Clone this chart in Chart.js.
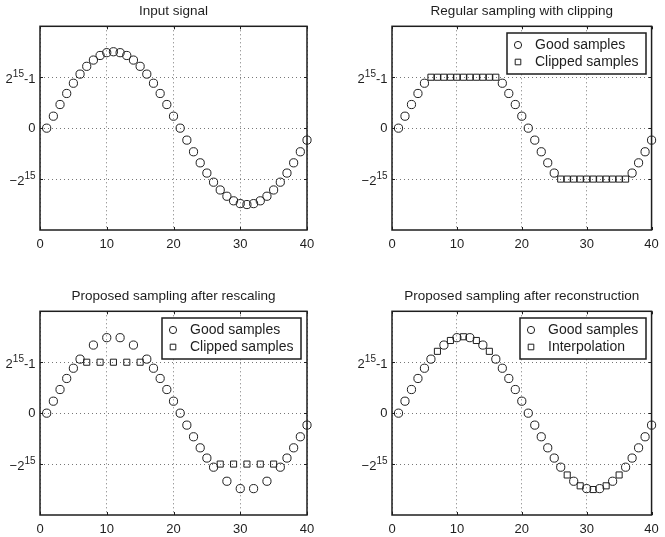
<!DOCTYPE html>
<html>
<head>
<meta charset="utf-8">
<title>Sampling with clipping</title>
<script src="https://cdn.jsdelivr.net/npm/chart.js@4/dist/chart.umd.min.js"></script>
<style>
  html, body { margin: 0; padding: 0; background: #fff; }
  #figure { position: relative; width: 665px; height: 537px; }
  #figure canvas { position: absolute; }
</style>
</head>
<body>
<div id="figure">
  <canvas id="inputChart" width="332" height="268" style="left:0;top:0"></canvas>
  <canvas id="clipChart" width="333" height="268" style="left:332px;top:0"></canvas>
  <canvas id="rescaleChart" width="332" height="269" style="left:0;top:268px"></canvas>
  <canvas id="reconChart" width="333" height="269" style="left:332px;top:268px"></canvas>
</div>
<script>
// sample values in units of 2^15
const sampleIndex = [1, 2, 3, 4, 5, 6, 7, 8, 9, 10, 11, 12, 13, 14, 15, 16, 17, 18, 19, 20,
  21, 22, 23, 24, 25, 26, 27, 28, 29, 30, 31, 32, 33, 34, 35, 36, 37, 38, 39, 40];

const inputSignal = [0, 0.235, 0.464, 0.681, 0.882, 1.061, 1.214, 1.337, 1.427, 1.482,
  1.5, 1.482, 1.427, 1.337, 1.214, 1.061, 0.882, 0.681, 0.464, 0.235,
  0, -0.235, -0.464, -0.681, -0.882, -1.061, -1.214, -1.337, -1.427, -1.482,
  -1.5, -1.482, -1.427, -1.337, -1.214, -1.061, -0.882, -0.681, -0.464, -0.235];

const clipGood = [0, 0.235, 0.464, 0.681, 0.882, null, null, null, null, null,
  null, null, null, null, null, null, 0.882, 0.681, 0.464, 0.235,
  0, -0.235, -0.464, -0.681, -0.882, null, null, null, null, null,
  null, null, null, null, null, null, -0.882, -0.681, -0.464, -0.235];
const clipClipped = [null, null, null, null, null, 1, 1, 1, 1, 1,
  1, 1, 1, 1, 1, 1, null, null, null, null,
  null, null, null, null, null, -1, -1, -1, -1, -1,
  -1, -1, -1, -1, -1, -1, null, null, null, null];

const rescaleGood = [0, 0.235, 0.464, 0.681, 0.882, 1.061, null, 1.337, null, 1.482,
  null, 1.482, null, 1.337, null, 1.061, 0.882, 0.681, 0.464, 0.235,
  0, -0.235, -0.464, -0.681, -0.882, -1.061, null, -1.337, null, -1.482,
  null, -1.482, null, -1.337, null, -1.061, -0.882, -0.681, -0.464, -0.235];
const rescaleClipped = [null, null, null, null, null, null, 1, null, 1, null,
  1, null, 1, null, 1, null, null, null, null, null,
  null, null, null, null, null, null, -1, null, -1, null,
  -1, null, -1, null, -1, null, null, null, null, null];

const reconGood = [0, 0.235, 0.464, 0.681, 0.882, 1.061, null, 1.337, null, 1.482,
  null, 1.482, null, 1.337, null, 1.061, 0.882, 0.681, 0.464, 0.235,
  0, -0.235, -0.464, -0.681, -0.882, -1.061, null, -1.337, null, -1.482,
  null, -1.482, null, -1.337, null, -1.061, -0.882, -0.681, -0.464, -0.235];
const reconInterp = [null, null, null, null, null, null, 1.214, null, 1.427, null,
  1.5, null, 1.427, null, 1.214, null, null, null, null, null,
  null, null, null, null, null, null, -1.214, null, -1.427, null,
  -1.5, null, -1.427, null, -1.214, null, null, null, null, null];

const xTickValues = [0, 10, 20, 30, 40];
const yTickValues = [-1, 0, 1];
// [base, superscript, tail]
const yTickLabels = [['\u22122', '15', ''], ['0', '', ''], ['2', '15', '-1']];

const FONT = "'Liberation Sans', Arial, Helvetica, sans-serif";
const INK = '#1e1e1e';

function toPoints(values) {
  return sampleIndex
    .map((x, i) => ({ x: x, y: values[i] }))
    .filter(p => p.y !== null);
}

// frame around the axes, inward tick marks and the 2^15 style y labels
const matlabAxes = {
  id: 'matlabAxes',
  afterDraw(chart) {
    const ctx = chart.ctx;
    const a = chart.chartArea;
    const xs = chart.scales.x, ys = chart.scales.y;
    ctx.save();
    ctx.strokeStyle = INK;
    ctx.lineWidth = 1;
    ctx.beginPath();
    xTickValues.forEach(v => {
      const px = Math.round(xs.getPixelForValue(v)) + 0.5;
      ctx.moveTo(px, a.bottom); ctx.lineTo(px, a.bottom - 3);
      ctx.moveTo(px, a.top); ctx.lineTo(px, a.top + 3);
    });
    yTickValues.forEach(v => {
      const py = Math.round(ys.getPixelForValue(v)) + 0.5;
      ctx.moveTo(a.left, py); ctx.lineTo(a.left + 3, py);
      ctx.moveTo(a.right, py); ctx.lineTo(a.right - 3, py);
    });
    ctx.stroke();

    ctx.lineWidth = 1.5;
    ctx.strokeRect(a.left, a.top, a.right - a.left, a.bottom - a.top);

    ctx.fillStyle = INK;
    ctx.textBaseline = 'middle';
    ctx.textAlign = 'left';
    yTickValues.forEach((v, i) => {
      const [base, sup, tail] = yTickLabels[i];
      const py = ys.getPixelForValue(v);
      ctx.font = '13px ' + FONT;
      const wBase = ctx.measureText(base).width;
      const wTail = ctx.measureText(tail).width;
      ctx.font = '10px ' + FONT;
      const wSup = ctx.measureText(sup).width;
      const yBase = sup ? py + 2.5 : py;
      let x = a.left - 4.5 - wBase - wSup - wTail;
      ctx.font = '13px ' + FONT;
      ctx.fillText(base, x, yBase);
      x += wBase;
      ctx.font = '10px ' + FONT;
      ctx.fillText(sup, x, yBase - 5.5);
      x += wSup;
      ctx.font = '13px ' + FONT;
      ctx.fillText(tail, x, yBase);
    });
    ctx.restore();
  }
};

// boxed legend in the upper right corner of the axes
const boxLegend = {
  id: 'boxLegend',
  afterDraw(chart, args, opts) {
    if (!opts.show) return;
    const ctx = chart.ctx;
    const a = chart.chartArea;
    const sets = chart.data.datasets;
    ctx.save();
    ctx.font = '14px ' + FONT;
    const textW = Math.max(...sets.map(d => ctx.measureText(d.label).width));
    const w = Math.round(28 + textW + 8), h = 41;
    const x = Math.round(a.right - 6 - w), y = Math.round(a.top + 7);
    ctx.fillStyle = '#fff';
    ctx.fillRect(x, y, w, h);
    ctx.strokeStyle = INK;
    ctx.lineWidth = 1.5;
    ctx.strokeRect(x, y, w, h);
    ctx.lineWidth = 1;
    sets.forEach((d, i) => {
      const cy = y + 12 + i * 17;
      ctx.beginPath();
      if (d.pointStyle === 'rect') {
        ctx.rect(x + 11 - 2.8, cy - 2.8, 5.6, 5.6);
      } else {
        ctx.arc(x + 11, cy, 3.6, 0, Math.PI * 2);
      }
      ctx.stroke();
      ctx.fillStyle = INK;
      ctx.textBaseline = 'middle';
      ctx.fillText(d.label, x + 28, cy + 0.5);
    });
    ctx.restore();
  }
};

function makeDataset(label, values, style) {
  return {
    label: label,
    data: toPoints(values),
    pointStyle: style,
    pointRadius: style === 'rect' ? 4.3 : 4.1,
    pointBorderWidth: 1,
    borderColor: INK,
    backgroundColor: 'rgba(0,0,0,0)',
    showLine: false,
    clip: false
  };
}

function makeChart(canvasId, title, datasets, box) {
  // box: padding and sizes that put the axes where they belong on the figure
  return new Chart(document.getElementById(canvasId), {
    type: 'scatter',
    data: { datasets: datasets },
    options: {
      responsive: false,
      animation: false,
      layout: { padding: { left: box.padLeft, right: box.padRight, top: 0, bottom: 0 } },
      plugins: {
        legend: { display: false },
        tooltip: { enabled: false },
        title: {
          display: true,
          text: title,
          fullSize: false,
          color: INK,
          font: { family: FONT, size: 13.5, weight: 'normal' },
          padding: { top: box.titleTop, bottom: 7.2 }
        },
        boxLegend: { show: datasets.length > 1 }
      },
      scales: {
        x: {
          type: 'linear',
          min: 0, max: 40,
          afterBuildTicks: scale => { scale.ticks = xTickValues.map(v => ({ value: v })); },
          afterFit: scale => { scale.height = box.xHeight; },
          grid: { color: '#777', lineWidth: 1, drawTicks: false },
          border: { display: false, dash: [1, 3] },
          ticks: { color: INK, padding: 6.2, font: { family: FONT, size: 13 } }
        },
        y: {
          type: 'linear',
          min: -2, max: 2,
          afterBuildTicks: scale => { scale.ticks = yTickValues.map(v => ({ value: v })); },
          afterFit: scale => { scale.width = 40; },
          grid: { color: '#777', lineWidth: 1, drawTicks: false },
          border: { display: false, dash: [1, 3] },
          ticks: { display: false }
        }
      }
    },
    plugins: [matlabAxes, boxLegend]
  });
}

const topBox = { padLeft: 0, padRight: 25, titleTop: 2.9, xHeight: 38 };
const topRightBox = { padLeft: 20, padRight: 5, titleTop: 2.9, xHeight: 38 };
const bottomBox = { padLeft: 0, padRight: 25, titleTop: 19.9, xHeight: 22 };
const bottomRightBox = { padLeft: 20, padRight: 5, titleTop: 19.9, xHeight: 22 };

makeChart('inputChart', 'Input signal',
  [makeDataset('Input signal', inputSignal, 'circle')], topBox);

makeChart('clipChart', 'Regular sampling with clipping',
  [makeDataset('Good samples', clipGood, 'circle'),
   makeDataset('Clipped samples', clipClipped, 'rect')], topRightBox);

makeChart('rescaleChart', 'Proposed sampling after rescaling',
  [makeDataset('Good samples', rescaleGood, 'circle'),
   makeDataset('Clipped samples', rescaleClipped, 'rect')], bottomBox);

makeChart('reconChart', 'Proposed sampling after reconstruction',
  [makeDataset('Good samples', reconGood, 'circle'),
   makeDataset('Interpolation', reconInterp, 'rect')], bottomRightBox);
</script>
</body>
</html>
